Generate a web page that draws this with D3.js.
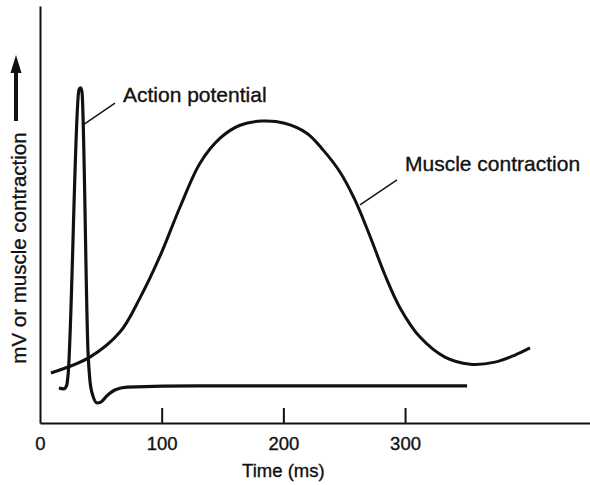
<!DOCTYPE html>
<html>
<head>
<meta charset="utf-8">
<script src="https://cdn.jsdelivr.net/npm/d3@7"></script>
<style>
  body { margin: 0; background: #fff; }
  svg text { font-family: "Liberation Sans", Arial, Helvetica, sans-serif; fill: #111; stroke: #111; stroke-width: 0.35px; }
</style>
</head>
<body>
<svg id="chart" width="590" height="485"></svg>
<script>
// time axis ticks (ms)
var timeTicks = [0, 100, 200, 300];

// action potential trace (ms, arbitrary units 0-100)
var apTime  = [15.5, 19.5, 22, 23, 32, 33.3, 34.5, 39.5, 41, 43.5, 47, 50, 55, 61.5, 71.5, 130, 351];
var apValue = [8.4, 8.2, 9.1, 11.3, 79.9, 80.4, 79.4, 16.8, 10.3, 6.5, 4.8, 5.0, 6.5, 7.9, 8.6, 8.9, 8.9];

// muscle contraction (twitch) trace
var mcTime  = [9, 41, 65.7, 82.2, 98.6, 115.1, 131.5, 148, 164.4, 182.5, 201, 219.3, 232.6, 246.5, 258.8, 271.2, 283.5, 295.9, 312.3, 332.8, 353.4, 373.9, 390.4, 402.7];
var mcValue = [12, 15.8, 21.8, 30, 40, 51.8, 62.3, 68.3, 71.4, 72.4, 71.9, 69.5, 65.5, 60.2, 53.5, 44.8, 35.5, 27.6, 20.6, 15.8, 14.1, 14.6, 16.3, 18];

// labels: text, point on trace [t, v], end of leader [t, v]
var labelText  = ["Action potential", "Muscle contraction"];
var labelPoint = [[35.5, 71.5], [263, 52.3]];
var labelEnd   = [[61.6, 76.7], [293.4, 58.3]];

var svg = d3.select("#chart");

var x = d3.scaleLinear().domain([0, 452]).range([40, 590]);
var y = d3.scaleLinear().domain([0, 100]).range([423, 6]);

/* axes */
var xAxis = d3.axisBottom(x)
    .tickValues(timeTicks)
    .tickSizeInner(-15)
    .tickSizeOuter(0)
    .tickPadding(14);

var gx = svg.append("g")
    .attr("transform", "translate(0," + y(0) + ")")
    .call(xAxis);
gx.select(".domain").attr("stroke", "#111").attr("stroke-width", 2);
gx.selectAll(".tick line").attr("stroke", "#111").attr("stroke-width", 2);
gx.selectAll(".tick").filter(function(d) { return d === 0; }).select("line").remove();
gx.selectAll(".tick text")
    .style("font-size", "18.5px")
    .attr("fill", "#111");

var gy = svg.append("g")
    .attr("transform", "translate(" + x(0) + ",0)")
    .call(d3.axisLeft(y).tickValues([]).tickSizeOuter(0));
gy.select(".domain").attr("stroke", "#111").attr("stroke-width", 2);

svg.append("text")
    .attr("x", x(200))
    .attr("y", 477)
    .attr("text-anchor", "middle")
    .style("font-size", "18.5px")
    .text("Time (ms)");

svg.append("text")
    .attr("transform", "translate(26,248) rotate(-90)")
    .attr("text-anchor", "middle")
    .style("font-size", "20.5px")
    .text("mV or muscle contraction");

// upward arrow beside the y label
svg.append("line")
    .attr("x1", 16).attr("y1", 121)
    .attr("x2", 16).attr("y2", 70)
    .attr("stroke", "#111")
    .attr("stroke-width", 4);
svg.append("path")
    .attr("d", "M16,55 L21.5,73 L10.5,73 Z")
    .attr("fill", "#111");

/* traces */
var line = d3.line()
    .x(function(d) { return x(d[0]); })
    .y(function(d) { return y(d[1]); });

svg.append("path")
    .datum(d3.zip(mcTime, mcValue))
    .attr("d", line.curve(d3.curveCatmullRom.alpha(0.5)))
    .attr("fill", "none")
    .attr("stroke", "#111")
    .attr("stroke-width", 3);

svg.append("path")
    .datum(d3.zip(apTime, apValue))
    .attr("d", line.curve(d3.curveMonotoneX))
    .attr("fill", "none")
    .attr("stroke", "#111")
    .attr("stroke-width", 3.2)
    .attr("stroke-linejoin", "round");

/* labels with leader lines */
var textShift = [-1, -9];
labelText.forEach(function(t, i) {
    svg.append("line")
        .attr("x1", x(labelPoint[i][0])).attr("y1", y(labelPoint[i][1]))
        .attr("x2", x(labelEnd[i][0])).attr("y2", y(labelEnd[i][1]))
        .attr("stroke", "#111")
        .attr("stroke-width", 1.4);
    svg.append("text")
        .attr("x", x(labelEnd[i][0]) + 8)
        .attr("y", y(labelEnd[i][1]) + textShift[i])
        .style("font-size", "21px")
        .text(t);
});
</script>
</body>
</html>
